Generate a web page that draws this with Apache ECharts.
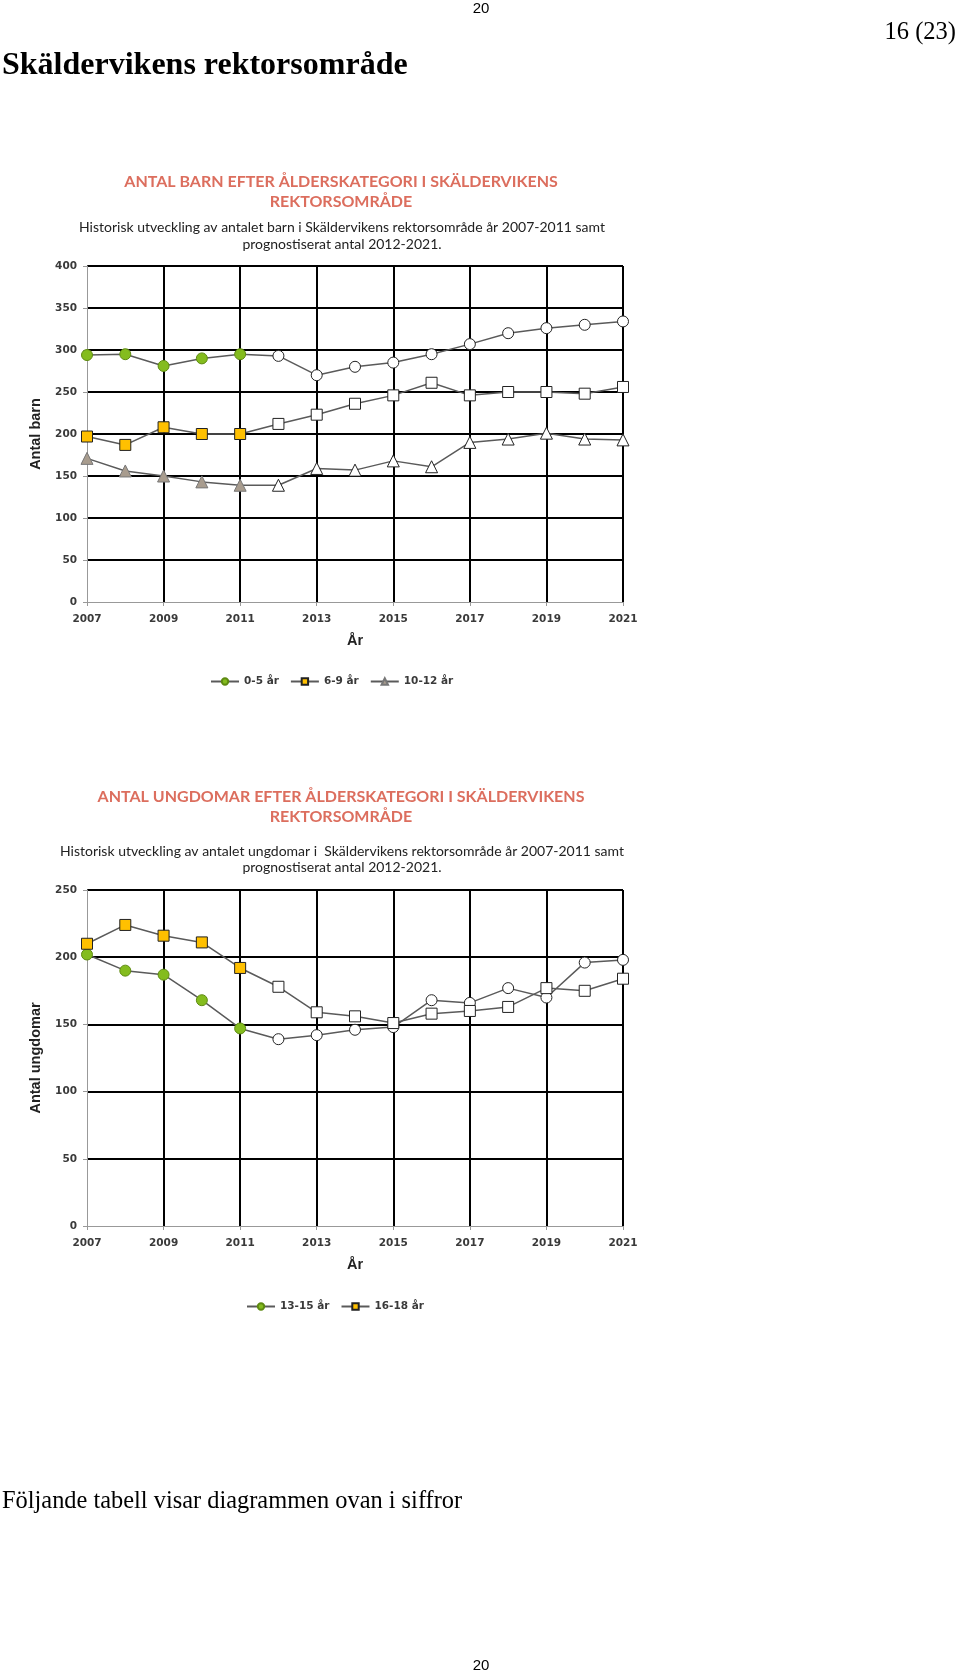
<!DOCTYPE html>
<html><head><meta charset="utf-8">
<script src="https://cdn.jsdelivr.net/npm/echarts@6/dist/echarts.min.js"></script>
<style>html,body{margin:0;padding:0;background:#fff}#c{width:960px;height:1675px}</style>
</head><body><div id="c"></div>
<script>
// ---- data ----
const years = ['2007','2008','2009','2010','2011','2012','2013','2014','2015','2016','2017','2018','2019','2020','2021'];
const historicCount = 5; // 2007-2011 historical, rest prognosis
const barn0_5   = [294,295,281,290,295,293,270,280,285,295,307,320,326,330,334];
const barn6_9   = [197,187,208,200,200,212,223,236,246,261,246,250,250,248,256];
const barn10_12 = [171,156,150,143,139,139,159,157,168,161,190,194,201,194,193];
const ungd13_15 = [202,190,187,168,147,139,142,146,148,168,166,177,170,196,198];
const ungd16_18 = [210,224,216,211,192,178,159,156,151,158,160,163,177,175,184];
const names1 = ['0-5 år','6-9 år','10-12 år'];
const names2 = ['13-15 år','16-18 år'];

// ---- styling helpers ----
const GREEN = '#84BC1E', YELLOW = '#FFC000', TAUPE = '#A89C8E', TITLE = '#DC6E5E';
const labelFont = {fontFamily:'DejaVu Sans', fontWeight:'bold', fontSize:10.5, color:'#3a3a3a'};

function xAxisCfg(gi){
  return {type:'category', gridIndex:gi, data:years, boundaryGap:false,
    name:'År', nameLocation:'middle', nameGap:31,
    nameTextStyle:{fontFamily:'Liberation Sans', fontWeight:'bold', fontSize:14.5, color:'#222'},
    axisLine:{show:true, lineStyle:{color:'#999', width:1}},
    axisTick:{show:true, interval:1, length:4, lineStyle:{color:'#999'}},
    axisLabel:Object.assign({interval:1, margin:12}, labelFont),
    splitLine:{show:true, interval:(i)=> i>0 && i%2===0, lineStyle:{color:'#000', width:2}}
  };
}
function yAxisCfg(gi, max, name){
  const n = max/50;
  const cols = ['rgba(0,0,0,0)']; for(let i=0;i<n;i++) cols.push('#000');
  return {type:'value', gridIndex:gi, min:0, max:max, interval:50,
    name:name, nameLocation:'middle', nameGap:44, nameRotate:90,
    nameTextStyle:{fontFamily:'Liberation Sans', fontWeight:'bold', fontSize:14.5, color:'#222'},
    axisLine:{show:true, lineStyle:{color:'#999', width:1}},
    axisTick:{show:true, length:4, lineStyle:{color:'#999'}},
    axisLabel:Object.assign({margin:10}, labelFont),
    splitLine:{show:true, lineStyle:{color:cols, width:2}}
  };
}
function mkSeries(name, vals, color, border, symbol, gi){
  return {name:name, type:'line', xAxisIndex:gi, yAxisIndex:gi, symbol:symbol,
    symbolSize: symbol==='triangle' ? 12 : 11, showAllSymbol:true,
    lineStyle:{color:'#5a5a5a', width:1.5},
    itemStyle:{color:color, borderColor:border, borderWidth:1},
    emphasis:{disabled:true},
    data: vals.map((v,i)=> i<historicCount ? v : {value:v, itemStyle:{color:'#fff', borderColor:'#222', borderWidth:1}})
  };
}
function txt(x, y, text, font, fill, align){
  return {type:'text', x:x, y:y, style:{text:text, font:font, fill:fill||'#000', textAlign:align||'center', verticalAlign:'middle'}};
}

const chartTitleFont = 'bold 16px Lato';
const subFont = '14px Lato';

const option = {
  animation:false,
  grid:[
    {left:87, top:266, width:536, height:336},
    {left:87, top:890, width:536, height:336}
  ],
  xAxis:[xAxisCfg(0), xAxisCfg(1)],
  yAxis:[yAxisCfg(0,400,'Antal barn'), yAxisCfg(1,250,'Antal ungdomar')],
  legend:[
    {data:names1, left:205, top:671, itemWidth:28, itemHeight:8, itemGap:11,
     textStyle:labelFont},
    {data:names2, left:241, top:1296, itemWidth:28, itemHeight:8, itemGap:11,
     textStyle:labelFont}
  ],
  series:[
    mkSeries(names1[0], barn0_5, GREEN, '#5E8A12', 'circle', 0),
    mkSeries(names1[1], barn6_9, YELLOW, '#222', 'rect', 0),
    mkSeries(names1[2], barn10_12, TAUPE, '#777', 'triangle', 0),
    mkSeries(names2[0], ungd13_15, GREEN, '#5E8A12', 'circle', 1),
    mkSeries(names2[1], ungd16_18, YELLOW, '#222', 'rect', 1)
  ],
  graphic:[
    txt(481, 9, '20', '15px "Liberation Sans"', '#000'),
    txt(956, 33, '16 (23)', '24.5px "Liberation Serif"', '#000', 'right'),
    txt(2, 66, 'Skäldervikens rektorsområde', 'bold 32px "Liberation Serif"', '#000', 'left'),
    txt(341, 182, 'ANTAL BARN EFTER ÅLDERSKATEGORI I SKÄLDERVIKENS', chartTitleFont, TITLE),
    txt(341, 202, 'REKTORSOMRÅDE', chartTitleFont, TITLE),
    txt(342, 227, 'Historisk utveckling av antalet barn i Skäldervikens rektorsområde år 2007-2011 samt', subFont, '#222'),
    txt(342, 244, 'prognostiserat antal 2012-2021.', subFont, '#222'),
    txt(341, 797, 'ANTAL UNGDOMAR EFTER ÅLDERSKATEGORI I SKÄLDERVIKENS', chartTitleFont, TITLE),
    txt(341, 817, 'REKTORSOMRÅDE', chartTitleFont, TITLE),
    txt(342, 851, 'Historisk utveckling av antalet ungdomar i  Skäldervikens rektorsområde år 2007-2011 samt', subFont, '#222'),
    txt(342, 867, 'prognostiserat antal 2012-2021.', subFont, '#222'),
    txt(2, 1502, 'Följande tabell visar diagrammen ovan i siffror', '24.4px "Liberation Serif"', '#000', 'left'),
    txt(481, 1666, '20', '15px "Liberation Sans"', '#000')
  ]
};
const chart = echarts.init(document.getElementById('c'), null, {renderer:'canvas'});
chart.setOption(option);
</script>
</body></html>
